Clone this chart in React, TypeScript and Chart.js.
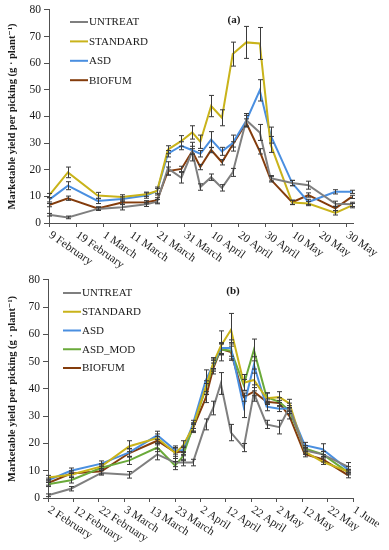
import React, { useEffect, useRef } from 'react';
import { Chart, registerables } from 'chart.js';
Chart.register(...registerables);

const FONT = '"Liberation Serif", "DejaVu Serif", serif';
const TEXT = '#1a1a1a';
const AXIS = '#505050';
const ERR = '#3a3a3a';

// ---------- Panel (a) ----------
const aTickDays = [0, 10, 20, 30, 40, 50, 60, 70, 80, 90, 100, 110];
const aTickLabels = ['9 February', '19 February', '1 March', '11 March', '21 March', '31 March', '10 April', '20 April', '30 April', '10 May', '20 May', '30 May'];
const aDays = [0, 7, 18, 27, 36, 40, 44, 49, 53, 56, 60, 64, 68, 73, 78, 82, 90, 96, 106, 112];
const aUntreat = [3.1, 2.1, 5.3, 5.9, 7.0, 8.0, 20.5, 17.0, 26.8, 13.5, 17.2, 13.2, 19.0, 38.6, 34.0, 16.8, 15.0, 14.2, 7.2, 7.0];
const aStandard = [10.3, 19.0, 10.3, 9.8, 10.8, 12.0, 27.5, 30.8, 34.0, 30.5, 43.9, 39.5, 63.4, 67.8, 67.4, 29.5, 7.7, 7.3, 3.8, 6.5];
const aAsd = [8.7, 14.0, 8.3, 9.0, 10.3, 12.0, 26.0, 29.0, 27.3, 26.0, 31.3, 26.9, 30.0, 38.4, 49.8, 33.0, 15.0, 7.9, 11.7, 11.7];
const aBiofum = [6.7, 9.3, 5.5, 7.7, 7.8, 8.5, 19.5, 20.3, 26.9, 21.0, 27.4, 22.8, 29.5, 37.6, 26.9, 16.4, 7.8, 10.5, 5.5, 9.8];
const aUntreatErr = [0.5, 0.5, 0.6, 1, 0.8, 0.8, 2.5, 2, 3.5, 1.2, 1.2, 1.2, 1.5, 2.5, 3, 1, 1, 1.5, 1, 0.8];
const aStandardErr = [0.8, 2, 1.2, 0.8, 0.8, 1, 1.5, 2, 2.5, 2.5, 4, 3, 4.5, 6, 6, 3, 0.8, 0.8, 0.8, 0.8];
const aAsdErr = [0.8, 1.5, 1, 0.8, 1, 1.5, 1.2, 1.5, 1.5, 1.2, 3, 1.5, 3, 2, 4, 3, 1, 1, 0.8, 0.6];
const aBiofumErr = [0.6, 0.8, 0.6, 0.6, 0.6, 1, 1.5, 1, 1, 1, 1, 1, 1, 1.5, 1, 1, 0.8, 0.8, 0.8, 0.6];

// ---------- Panel (b) ----------
const bTickDays = [0, 10, 20, 30, 40, 50, 60, 70, 80, 90, 100, 110, 120];
const bTickLabels = ['2 February', '12 February', '22 February', '3 March', '13 March', '23 March', '2 April', '12 April', '22 April', '2 May', '12 May', '22 May', '1 June'];
const bDays = [0, 9, 21, 32, 43, 50, 53, 57, 62, 65, 68, 72, 77, 81, 86, 91, 95, 101, 108, 118];
const bUntreat = [1.0, 3.4, 9.2, 8.5, 16.0, 13.0, 13.0, 13.0, 27.0, 33.0, 42.0, 24.0, 18.5, 38.5, 27.0, 26.0, 33.3, 17.5, 16.0, 11.5];
const bStandard = [7.5, 8.5, 11.6, 19.0, 22.0, 16.5, 19.0, 26.0, 40.5, 49.5, 55.8, 61.7, 42.3, 43.3, 36.6, 37.0, 34.7, 17.0, 13.3, 9.7];
const bAsd = [6.5, 10.0, 12.6, 16.7, 23.0, 17.6, 17.5, 27.0, 43.0, 49.0, 55.0, 55.0, 33.5, 48.8, 33.5, 32.7, 32.9, 19.4, 17.9, 10.5];
const bAsdMod = [5.0, 6.5, 11.1, 13.8, 18.5, 11.9, 15.2, 26.0, 40.0, 48.5, 54.5, 54.0, 41.5, 54.3, 37.0, 35.3, 32.0, 18.2, 16.1, 9.5];
const bBiofum = [5.5, 9.0, 9.8, 16.5, 21.0, 16.8, 17.0, 25.5, 36.5, 47.5, 54.6, 53.5, 37.0, 39.0, 35.3, 34.8, 30.0, 16.1, 14.2, 8.4];
const bUntreatErr = [0.5, 0.8, 0.8, 1.2, 2, 1.5, 1.2, 1.2, 2, 2.5, 4, 3, 1.5, 3, 1.5, 2.5, 1.5, 1, 1, 1.5];
const bStandardErr = [0.8, 1, 1, 2, 1.5, 2, 2, 1.5, 2.5, 2, 5.5, 6, 3, 4, 2, 2, 1.5, 1, 1, 0.8];
const bAsdErr = [0.8, 1, 1, 1.5, 1.5, 1.5, 1.5, 1.5, 4, 2, 2, 3, 4, 3, 1.5, 1, 1, 1, 2, 1];
const bAsdModErr = [0.8, 1, 1, 1.5, 1.5, 1.5, 1.5, 1.5, 2, 2, 2, 3, 2, 4, 1.5, 1.5, 1, 1, 1, 1];
const bBiofumErr = [0.8, 1, 1, 1.5, 1.5, 1.5, 1.5, 1.5, 1.5, 2, 2, 3, 1.5, 1.5, 1, 1, 1, 1, 1, 1];

const COLORS: Record<string, string> = {
  UNTREAT: '#7f7f7f',
  STANDARD: '#c9b31a',
  ASD: '#4a8fe0',
  ASD_MOD: '#6aaa3a',
  BIOFUM: '#843c0c',
};

const Y_TITLE = 'Marketable yield per picking (g \u00b7 plant\u207b\u00b9)';

type Series = { label: string; values: number[]; errors: number[] };

type PanelProps = {
  width: number;
  height: number;
  days: number[];
  series: Series[];
  tickDays: number[];
  tickLabels: string[];
  xMax: number;
  tag: string;
  tagX: number;
  tagY: number;
  legendX: number;
  legendY: number;
  legendStep: number;
  leftWidth: number;
  rightPad: number;
  topPad: number;
  bottomHeight: number;
  angle: number;
};

function Panel(p: PanelProps) {
  const ref = useRef<HTMLCanvasElement | null>(null);
  useEffect(() => {
    if (!ref.current) return;
    const drawPlugin = {
      id: 'customDraw',
      afterDatasetsDraw(chart: any) {
        const ctx = chart.ctx;
        const xs = chart.scales.x;
        const ys = chart.scales.y;
        ctx.save();
        ctx.strokeStyle = ERR;
        ctx.lineWidth = 1;
        p.series.forEach((s) => {
          s.values.forEach((v, i) => {
            const e = s.errors[i];
            if (!e) return;
            const x = Math.round(xs.getPixelForValue(p.days[i])) + 0.5;
            const y1 = ys.getPixelForValue(v + e);
            const y2 = ys.getPixelForValue(v - e);
            ctx.beginPath();
            ctx.moveTo(x, y1);
            ctx.lineTo(x, y2);
            ctx.moveTo(x - 2.5, y1);
            ctx.lineTo(x + 2.5, y1);
            ctx.moveTo(x - 2.5, y2);
            ctx.lineTo(x + 2.5, y2);
            ctx.stroke();
          });
        });
        ctx.restore();
      },
      afterDraw(chart: any) {
        const ctx = chart.ctx;
        const xs = chart.scales.x;
        ctx.save();
        // x tick labels (rotated clockwise, starting at the tick)
        ctx.fillStyle = TEXT;
        ctx.font = '11.5px ' + FONT;
        ctx.textAlign = 'left';
        ctx.textBaseline = 'middle';
        p.tickDays.forEach((d, i) => {
          const x = xs.getPixelForValue(d);
          ctx.save();
          ctx.translate(x + 1, xs.top + 11);
          ctx.rotate((p.angle * Math.PI) / 180);
          ctx.fillText(p.tickLabels[i], 0, 0);
          ctx.restore();
        });
        // legend
        ctx.font = '11px ' + FONT;
        p.series.forEach((s, i) => {
          const y = p.legendY + i * p.legendStep;
          ctx.strokeStyle = COLORS[s.label];
          ctx.lineWidth = 2;
          ctx.beginPath();
          ctx.moveTo(p.legendX, y);
          ctx.lineTo(p.legendX + 18, y);
          ctx.stroke();
          ctx.fillStyle = TEXT;
          ctx.fillText(s.label, p.legendX + 19, y + 0.5);
        });
        // panel tag
        ctx.font = 'bold 11px ' + FONT;
        ctx.textAlign = 'center';
        ctx.fillText(p.tag, p.tagX, p.tagY);
        ctx.restore();
      },
    };

    const chart = new Chart(ref.current, {
      type: 'line',
      data: {
        datasets: p.series.map((s) => ({
          label: s.label,
          data: s.values.map((v, i) => ({ x: p.days[i], y: v })),
          borderColor: COLORS[s.label],
          backgroundColor: COLORS[s.label],
          borderWidth: 2,
          pointRadius: 0,
          tension: 0,
          fill: false,
        })),
      },
      options: {
        responsive: false,
        animation: false,
        devicePixelRatio: 1,
        layout: { padding: { left: 0, right: p.rightPad, top: p.topPad, bottom: 0 } },
        plugins: { legend: { display: false }, tooltip: { enabled: false } },
        scales: {
          x: {
            type: 'linear',
            min: 0,
            max: p.xMax,
            afterBuildTicks: (scale: any) => {
              scale.ticks = p.tickDays.map((v) => ({ value: v }));
            },
            afterFit: (scale: any) => {
              scale.height = p.bottomHeight;
            },
            ticks: { display: false },
            grid: { drawOnChartArea: false, drawTicks: true, tickLength: 4, color: AXIS },
            border: { display: true, color: AXIS, width: 1 },
          },
          y: {
            min: 0,
            max: 80,
            afterFit: (scale: any) => {
              scale.width = p.leftWidth;
            },
            ticks: { stepSize: 10, color: TEXT, font: { family: FONT, size: 11.5 }, padding: 3 },
            grid: { drawOnChartArea: false, drawTicks: true, tickLength: 5, color: AXIS },
            border: { display: true, color: AXIS, width: 1 },
            title: {
              display: true,
              text: Y_TITLE,
              color: TEXT,
              font: { family: FONT, size: 10.5, weight: 'bold' },
              padding: { top: 6, bottom: 0 },
            },
          },
        },
      },
      plugins: [drawPlugin],
    } as any);
    return () => chart.destroy();
  }, []);
  return <canvas ref={ref} width={p.width} height={p.height} style={{ display: 'block' }} />;
}

export default function App() {
  const aSeries: Series[] = [
    { label: 'UNTREAT', values: aUntreat, errors: aUntreatErr },
    { label: 'STANDARD', values: aStandard, errors: aStandardErr },
    { label: 'ASD', values: aAsd, errors: aAsdErr },
    { label: 'BIOFUM', values: aBiofum, errors: aBiofumErr },
  ];
  const bSeries: Series[] = [
    { label: 'UNTREAT', values: bUntreat, errors: bUntreatErr },
    { label: 'STANDARD', values: bStandard, errors: bStandardErr },
    { label: 'ASD', values: bAsd, errors: bAsdErr },
    { label: 'ASD_MOD', values: bAsdMod, errors: bAsdModErr },
    { label: 'BIOFUM', values: bBiofum, errors: bBiofumErr },
  ];
  return (
    <div style={{ position: 'absolute', left: 0, top: 0, width: 389, height: 550, background: '#fff' }}>
      <div style={{ position: 'absolute', left: 0, top: 0 }}>
        <Panel
          width={389}
          height={270}
          days={aDays}
          series={aSeries}
          tickDays={aTickDays}
          tickLabels={aTickLabels}
          xMax={112.5}
          tag="(a)"
          tagX={234}
          tagY={20}
          legendX={70}
          legendY={22}
          legendStep={19.4}
          leftWidth={49}
          rightPad={36}
          topPad={5}
          bottomHeight={47}
          angle={35}
        />
      </div>
      <div style={{ position: 'absolute', left: 0, top: 270 }}>
        <Panel
          width={389}
          height={280}
          days={bDays}
          series={bSeries}
          tickDays={bTickDays}
          tickLabels={bTickLabels}
          xMax={120}
          tag="(b)"
          tagX={233}
          tagY={21}
          legendX={63}
          legendY={23}
          legendStep={18.75}
          leftWidth={48}
          rightPad={36}
          topPad={4}
          bottomHeight={52}
          angle={33}
        />
      </div>
    </div>
  );
}
